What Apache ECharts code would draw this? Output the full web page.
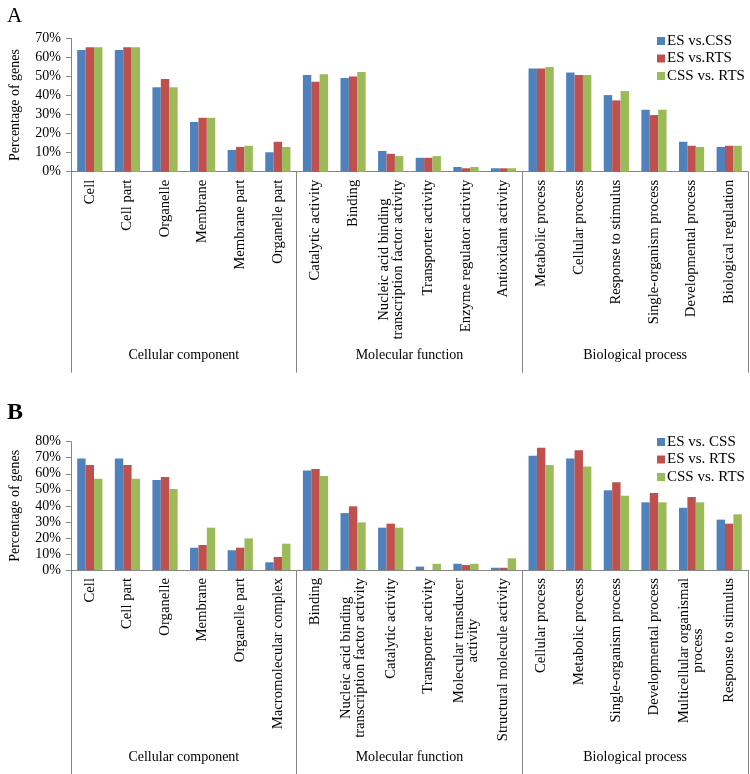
<!DOCTYPE html>
<html>
<head>
<meta charset="utf-8">
<script src="https://cdn.jsdelivr.net/npm/echarts@6/dist/echarts.min.js"></script>
<style>
html,body{margin:0;padding:0;background:#fff;}
#c{width:750px;height:774px;}
</style>
</head>
<body>
<div id="c"></div>
<script>
// ---------- Data ----------
const groups = ['Cellular component', 'Molecular function', 'Biological process'];

const categoriesA = ['Cell', 'Cell part', 'Organelle', 'Membrane', 'Membrane part', 'Organelle part',
  'Catalytic activity', 'Binding', 'Nucleic acid binding\ntranscription factor activity', 'Transporter activity',
  'Enzyme regulator activity', 'Antioxidant activity',
  'Metabolic process', 'Cellular process', 'Response to stimulus', 'Single-organism process',
  'Developmental process', 'Biological regulation'];
const seriesNamesA = ['ES vs.CSS', 'ES vs.RTS', 'CSS vs. RTS'];
const esCssA  = [63.8, 63.8, 44.3, 26.1, 11.4, 10.2, 50.7, 49.2, 10.9, 7.3, 2.5, 1.8, 54.2, 52.1, 40.2, 32.5, 15.7, 13.0];
const esRtsA  = [65.3, 65.3, 48.6, 28.3, 13.0, 15.7, 47.2, 50.0, 9.4, 7.3, 1.8, 1.8, 54.2, 50.7, 37.4, 29.7, 13.6, 13.6];
const cssRtsA = [65.3, 65.3, 44.3, 28.3, 13.6, 13.0, 51.2, 52.3, 8.2, 8.2, 2.5, 1.8, 54.9, 50.7, 42.3, 32.5, 13.0, 13.6];
const yTicksA = {min: 0, max: 70, interval: 10};

const categoriesB = ['Cell', 'Cell part', 'Organelle', 'Membrane', 'Organelle part', 'Macromolecular complex',
  'Binding', 'Nucleic acid binding\ntranscription factor activity', 'Catalytic activity', 'Transporter activity',
  'Molecular transducer\nactivity', 'Structural molecule activity',
  'Cellular process', 'Metabolic process', 'Single-organism process', 'Developmental process',
  'Multicellular organismal\nprocess', 'Response to stimulus'];
const seriesNamesB = ['ES vs. CSS', 'ES vs. RTS', 'CSS vs. RTS'];
const esCssB  = [69.6, 69.6, 56.1, 13.9, 12.3, 4.8, 62.1, 35.5, 26.4, 2.1, 3.9, 1.4, 71.3, 69.6, 49.7, 42.2, 38.8, 31.4];
const esRtsB  = [65.5, 65.5, 58.0, 15.6, 13.9, 8.1, 63.0, 39.7, 28.9, 0.0, 3.1, 1.4, 76.3, 74.6, 54.7, 48.0, 45.5, 28.9];
const cssRtsB = [56.9, 56.9, 50.5, 26.4, 19.7, 16.4, 58.6, 29.7, 26.4, 3.9, 3.9, 7.3, 65.5, 64.6, 46.3, 42.2, 42.2, 34.7];
const yTicksB = {min: 0, max: 80, interval: 10};

const colors = ['#4F81BD', '#C0504D', '#9BBB59'];

// ---------- Chart ----------
const FONT = '"Liberation Serif", "Times New Roman", serif';
const AXIS = '#868686';
const chart = echarts.init(document.getElementById('c'), null, {renderer: 'canvas'});

function catLabelFormatter(v) {
  return v.split('\n').map(s => '{c|' + s + '}').join('\n');
}

const catAxisLabel = {
  rotate: 90, interval: 0, margin: 8, color: '#000',
  fontFamily: FONT, fontSize: 14.7, lineHeight: 14,
  formatter: catLabelFormatter,
  rich: {c: {align: 'center', fontFamily: FONT, fontSize: 14.7, lineHeight: 14, color: '#000'}}
};

function mainX(gridIndex, data) {
  return {
    type: 'category', gridIndex: gridIndex, data: data, position: 'bottom',
    axisLine: {show: true, lineStyle: {color: AXIS, width: 1}},
    axisTick: {show: false},
    axisLabel: catAxisLabel,
    splitLine: {show: false}
  };
}
function groupX(gridIndex, tickLen, labelMargin) {
  return {
    type: 'category', gridIndex: gridIndex, data: groups, position: 'bottom',
    axisLine: {show: false},
    axisTick: {show: true, length: tickLen, lineStyle: {color: AXIS, width: 1}},
    axisLabel: {interval: 0, margin: labelMargin, color: '#000', fontFamily: FONT, fontSize: 14},
    splitLine: {show: false}
  };
}
function yAx(gridIndex, t) {
  return {
    type: 'value', gridIndex: gridIndex, min: t.min, max: t.max, interval: t.interval,
    name: 'Percentage of genes', nameLocation: 'middle', nameGap: 49, nameRotate: 90,
    nameTextStyle: {fontFamily: FONT, fontSize: 14, color: '#000'},
    axisLine: {show: true, lineStyle: {color: AXIS, width: 1}},
    axisTick: {show: true, length: 5, lineStyle: {color: AXIS}},
    axisLabel: {formatter: '{value}%', margin: 10, color: '#000', fontFamily: FONT, fontSize: 14},
    splitLine: {show: false}
  };
}
function bars(names, arrays, xIdx, yIdx) {
  return names.map((n, i) => ({
    name: n, type: 'bar', xAxisIndex: xIdx, yAxisIndex: yIdx,
    data: arrays[i], barGap: '0%', barCategoryGap: '33%',
    itemStyle: {color: colors[i]}, animation: false
  }));
}
function legendFor(names, top) {
  return {
    data: names, orient: 'vertical', left: 657, top: top, padding: 0,
    icon: 'rect', itemWidth: 8, itemHeight: 8, itemGap: 2.5,
    textStyle: {fontFamily: FONT, fontSize: 15, lineHeight: 15, color: '#000', padding: [0, 0, 0, -3]},
    selectedMode: false
  };
}

const option = {
  backgroundColor: '#fff',
  animation: false,
  title: [
    {text: 'A', left: 2, top: 1, textStyle: {fontFamily: FONT, fontSize: 21, fontWeight: 'normal', color: '#000'}},
    {text: 'B', left: 2, top: 396, textStyle: {fontFamily: FONT, fontSize: 24, fontWeight: 'bold', color: '#000'}}
  ],
  legend: [legendFor(seriesNamesA, 33.5), legendFor(seriesNamesB, 434.5)],
  grid: [
    {left: 70, right: 2, top: 38.3, height: 133.4, containLabel: false},
    {left: 70, right: 2, top: 441.7, height: 128.3, containLabel: false}
  ],
  xAxis: [
    mainX(0, categoriesA),
    groupX(0, 201, 177),
    mainX(1, categoriesB),
    groupX(1, 206, 180)
  ],
  yAxis: [yAx(0, yTicksA), yAx(1, yTicksB)],
  series: [].concat(
    bars(seriesNamesA, [esCssA, esRtsA, cssRtsA], 0, 0),
    bars(seriesNamesB, [esCssB, esRtsB, cssRtsB], 2, 1)
  )
};
chart.setOption(option);
</script>
</body>
</html>
